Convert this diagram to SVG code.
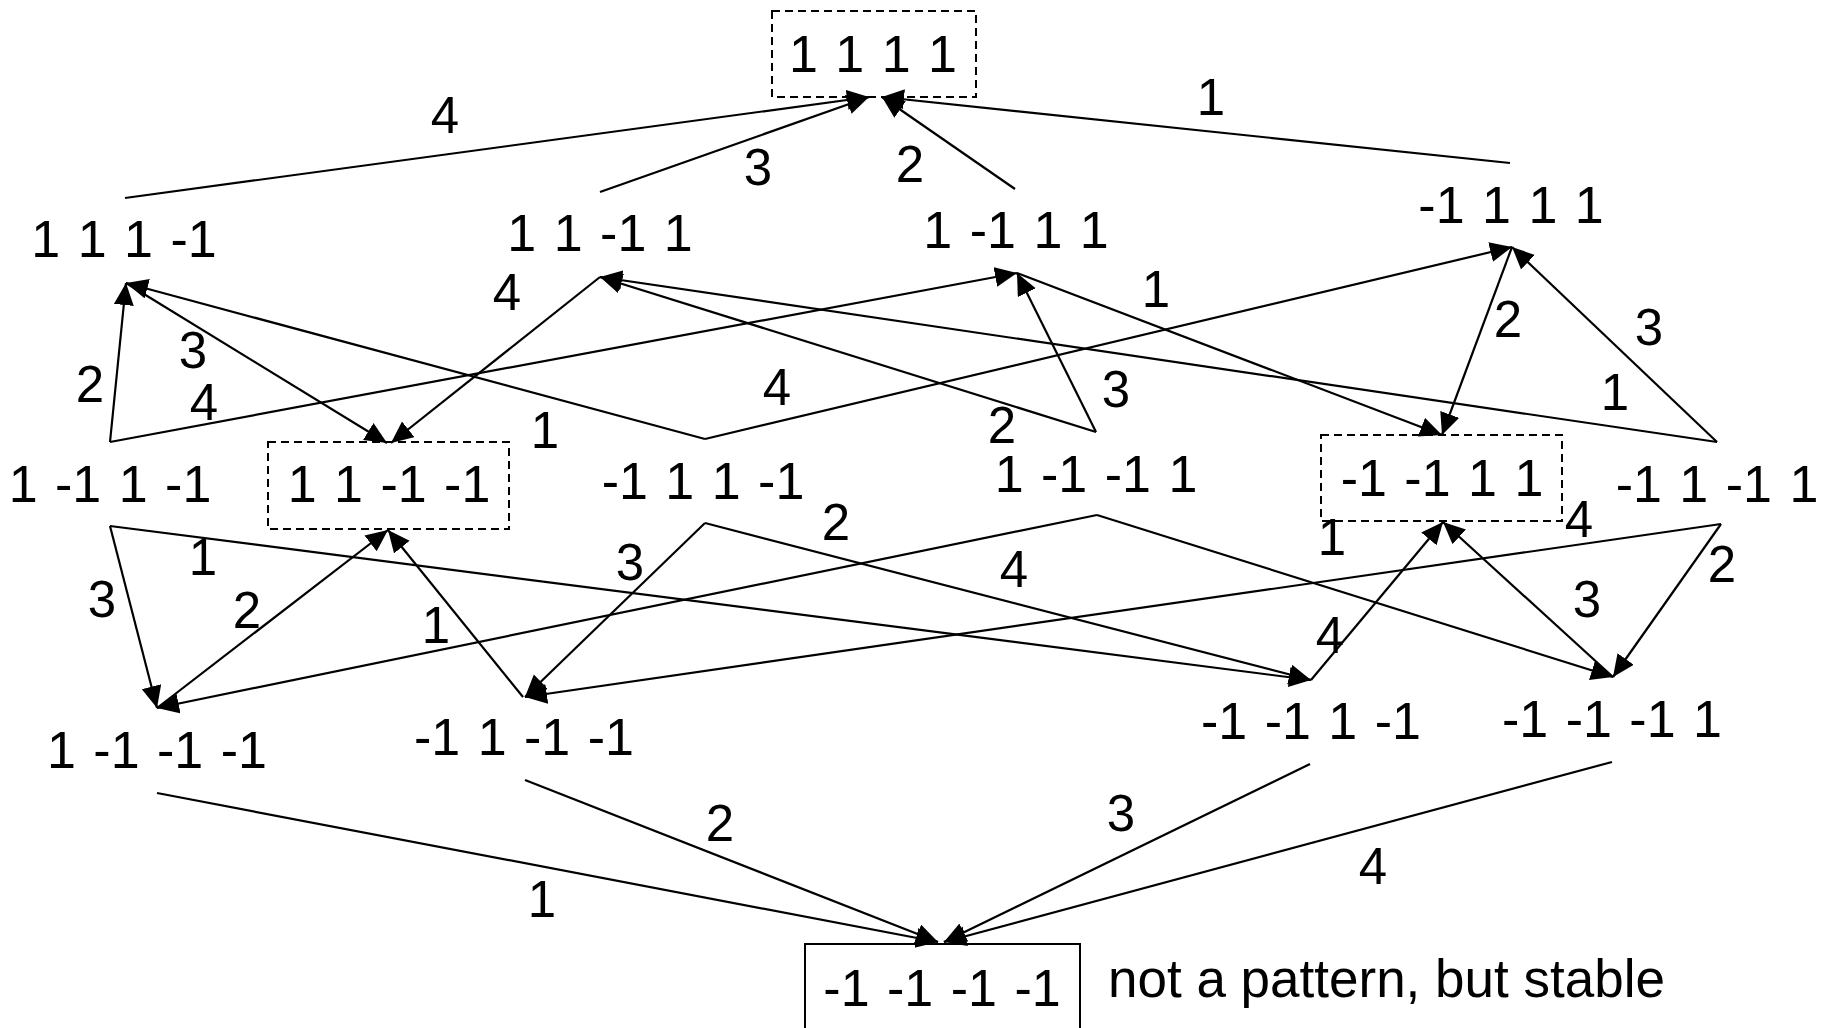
<svg xmlns="http://www.w3.org/2000/svg" width="1829" height="1028" viewBox="0 0 1829 1028">
<style>
.n{font-family:"Liberation Sans",Arial,sans-serif;font-size:52px;word-spacing:3px;text-anchor:middle;fill:#000}
.l{font-family:"Liberation Sans",Arial,sans-serif;font-size:51px;text-anchor:middle;fill:#000}
.c{font-family:"Liberation Sans",Arial,sans-serif;font-size:53px;fill:#000}
.e{stroke:#000;stroke-width:2.2;fill:none;marker-end:url(#ah)}
.d{fill:none;stroke:#000;stroke-width:2;stroke-dasharray:8,5}
.s{fill:none;stroke:#000;stroke-width:2}
</style>
<defs>
<marker id="ah" markerUnits="userSpaceOnUse" markerWidth="24" markerHeight="22" refX="22" refY="10" orient="auto">
<path d="M0,0 L22,10 L0,20 Z" fill="#000"/>
</marker>
</defs>
<rect width="1829" height="1028" fill="#fff"/>
<g id="connectors">
<path class="e" d="M125,198 L869,97"/>
<path class="e" d="M600,192 L869,97"/>
<path class="e" d="M1015,189 L882,97"/>
<path class="e" d="M1510,163 L882,97"/>
<path class="e" d="M110,442 L126,283"/>
<path class="e" d="M705,439 L126,283"/>
<path class="e" d="M126,283 L387,443"/>
<path class="e" d="M110,442 L1017,273"/>
<path class="e" d="M600,277 L391,443"/>
<path class="e" d="M705,439 L1512,247"/>
<path class="e" d="M1096,432 L600,277"/>
<path class="e" d="M1096,432 L1017,273"/>
<path class="e" d="M1017,273 L1442,435"/>
<path class="e" d="M1512,247 L1442,435"/>
<path class="e" d="M1717,442 L1512,247"/>
<path class="e" d="M1717,442 L600,277"/>
<path class="e" d="M110,526 L157,708"/>
<path class="e" d="M110,526 L1311,680"/>
<path class="e" d="M157,708 L388,530"/>
<path class="e" d="M1097,515 L157,708"/>
<path class="e" d="M523,697 L388,530"/>
<path class="e" d="M705,523 L525,697"/>
<path class="e" d="M705,523 L1311,680"/>
<path class="e" d="M1721,524 L525,697"/>
<path class="e" d="M1097,515 L1613,677"/>
<path class="e" d="M1311,680 L1443,522"/>
<path class="e" d="M1613,677 L1443,522"/>
<path class="e" d="M1721,524 L1613,677"/>
<path class="e" d="M157,793 L938,942"/>
<path class="e" d="M525,780 L938,942"/>
<path class="e" d="M1310,764 L944,942"/>
<path class="e" d="M1612,762 L944,942"/>
</g>
<g id="edge-labels">
<text class="l" x="445" y="133">4</text>
<text class="l" x="758" y="185">3</text>
<text class="l" x="910" y="182">2</text>
<text class="l" x="1211" y="115">1</text>
<text class="l" x="90" y="402">2</text>
<text class="l" x="193" y="368">3</text>
<text class="l" x="204" y="420">4</text>
<text class="l" x="507" y="310">4</text>
<text class="l" x="545" y="448">1</text>
<text class="l" x="777" y="405">4</text>
<text class="l" x="1156" y="307">1</text>
<text class="l" x="1116" y="407">3</text>
<text class="l" x="1002" y="443">2</text>
<text class="l" x="1508" y="337">2</text>
<text class="l" x="1649" y="345">3</text>
<text class="l" x="1615" y="410">1</text>
<text class="l" x="203" y="575">1</text>
<text class="l" x="102" y="617">3</text>
<text class="l" x="247" y="628">2</text>
<text class="l" x="436" y="643">1</text>
<text class="l" x="630" y="580">3</text>
<text class="l" x="836" y="540">2</text>
<text class="l" x="1014" y="587">4</text>
<text class="l" x="1332" y="555">1</text>
<text class="l" x="1579" y="537">4</text>
<text class="l" x="1330" y="653">4</text>
<text class="l" x="1722" y="582">2</text>
<text class="l" x="1587" y="617">3</text>
<text class="l" x="542" y="917">1</text>
<text class="l" x="720" y="841">2</text>
<text class="l" x="1121" y="831">3</text>
<text class="l" x="1373" y="884">4</text>
</g>
<g id="n1111"><rect class="d" x="772" y="11" width="204" height="86"/><text class="n" x="873" y="72">1 1 1 1</text></g>
<g id="n111m"><text class="n" x="124" y="257">1 1 1 -1</text></g>
<g id="n11m1"><text class="n" x="600" y="251">1 1 -1 1</text></g>
<g id="n1m11"><text class="n" x="1016" y="248">1 -1 1 1</text></g>
<g id="nm111"><text class="n" x="1511" y="223">-1 1 1 1</text></g>
<g id="n1m1m"><text class="n" x="110" y="502">1 -1 1 -1</text></g>
<g id="n11mm"><rect class="d" x="268" y="442" width="241" height="87"/><text class="n" x="389" y="502">1 1 -1 -1</text></g>
<g id="nm11m"><text class="n" x="703" y="499">-1 1 1 -1</text></g>
<g id="n1mm1"><text class="n" x="1096" y="492">1 -1 -1 1</text></g>
<g id="nmm11"><rect class="d" x="1321" y="435" width="241" height="86"/><text class="n" x="1442" y="496">-1 -1 1 1</text></g>
<g id="nm1m1"><text class="n" x="1717" y="502">-1 1 -1 1</text></g>
<g id="n1mmm"><text class="n" x="157" y="768">1 -1 -1 -1</text></g>
<g id="nm1mm"><text class="n" x="524" y="755">-1 1 -1 -1</text></g>
<g id="nmm1m"><text class="n" x="1311" y="739">-1 -1 1 -1</text></g>
<g id="nmmm1"><text class="n" x="1612" y="737">-1 -1 -1 1</text></g>
<g id="nmmmm"><rect class="s" x="805" y="944" width="275" height="100"/><text class="n" x="942" y="1006">-1 -1 -1 -1</text></g>
<g id="caption"><text class="c" x="1108" y="997">not a pattern, but stable</text></g>
</svg>
